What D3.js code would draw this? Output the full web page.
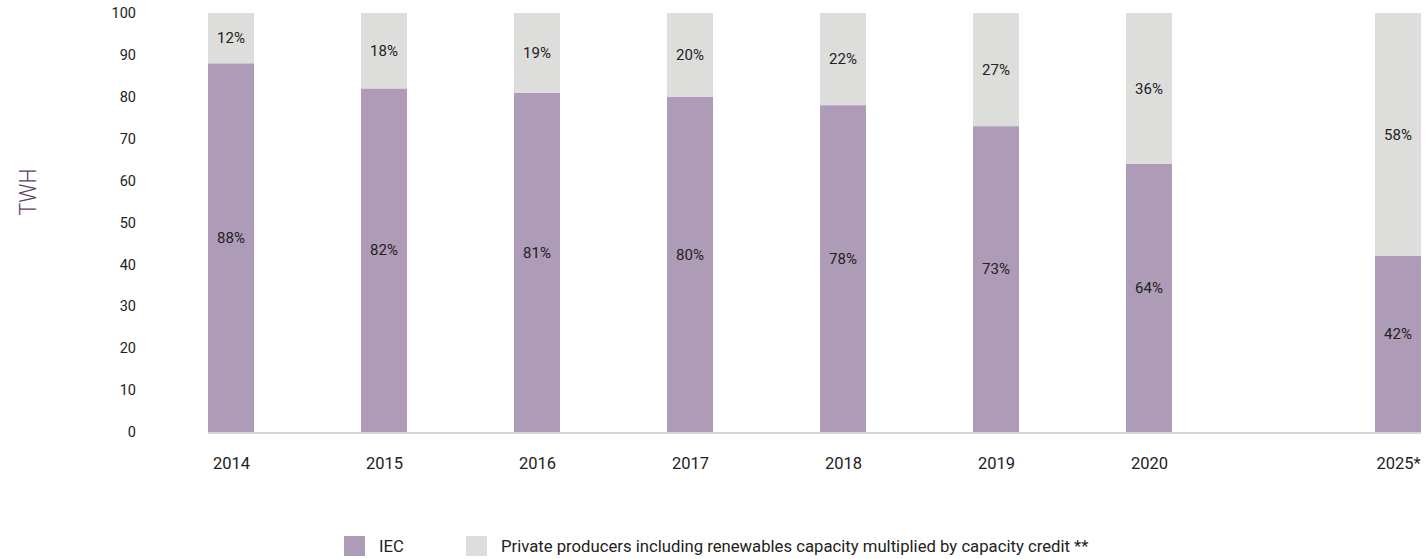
<!DOCTYPE html>
<html>
<head>
<meta charset="utf-8">
<script src="https://cdn.jsdelivr.net/npm/d3@7"></script>
<style>
  html, body { margin: 0; padding: 0; background: #fff; }
  svg { display: block; font-family: Roboto, "Noto Sans", sans-serif; }
</style>
</head>
<body>
<svg id="chart" width="1427" height="559"></svg>
<script>
// Electricity generation shares by producer (TWh, %)
const years = [2014, 2015, 2016, 2017, 2018, 2019, 2020, 2025];
const yearLabels = ["2014", "2015", "2016", "2017", "2018", "2019", "2020", "2025*"];
const iec = [88, 82, 81, 80, 78, 73, 64, 42];
const privateProducers = [12, 18, 19, 20, 22, 27, 36, 58];
const yTicks = [0, 10, 20, 30, 40, 50, 60, 70, 80, 90, 100];
const seriesNames = ["IEC", "Private producers including renewables capacity multiplied by capacity credit **"];
const seriesColors = ["#ae9bb7", "#dddddb"];

const svg = d3.select("#chart");

// Year axis: evenly spaced through 2020, with a shorter gap before the 2025 projection
const x = d3.scaleLinear().domain([2014, 2020, 2025]).range([231, 1149, 1398]);
const y = d3.scaleLinear().domain([0, 100]).range([432, 13]);
const barW = 46;

const rows = years.map((yr, i) => ({ year: yr, label: yearLabels[i], iec: iec[i], priv: privateProducers[i] }));
const stack = d3.stack().keys(["iec", "priv"])(rows);

// Stacked bars
svg.append("g").selectAll("g")
  .data(stack)
  .join("g")
  .attr("fill", (d, i) => seriesColors[i])
  .selectAll("rect")
  .data(d => d)
  .join("rect")
  .attr("x", d => x(d.data.year) - barW / 2)
  .attr("width", barW)
  .attr("y", d => y(d[1]))
  .attr("height", d => y(d[0]) - y(d[1]));

// Baseline
svg.append("line")
  .attr("x1", x(2014) - barW / 2).attr("x2", x(2025) + barW / 2)
  .attr("y1", y(0) + 1).attr("y2", y(0) + 1)
  .attr("stroke", "#d6d6d6").attr("stroke-width", 2);

// Percentage labels inside segments
const labelG = svg.append("g")
  .attr("font-size", 15).attr("fill", "#222").attr("text-anchor", "middle");
stack.forEach((layer, li) => {
  labelG.selectAll(null)
    .data(layer)
    .join("text")
    .attr("x", d => x(d.data.year))
    .attr("y", d => (y(d[0]) + y(d[1])) / 2 - (li === 0 ? 10 : 0))
    .attr("dy", "0.35em")
    .text(d => (d[1] - d[0]) + "%");
});

// Y axis tick labels
const yAxis = d3.axisLeft(y).tickValues(yTicks).tickSize(0).tickPadding(0);
const yg = svg.append("g").attr("transform", "translate(136,0)").call(yAxis);
yg.select(".domain").remove();
yg.selectAll("text").attr("font-size", 14.5).attr("fill", "#222").attr("font-family", "Roboto, sans-serif");

// X axis tick labels
const xAxis = d3.axisBottom(x).tickValues(years).tickFormat((d, i) => yearLabels[i]).tickSize(0).tickPadding(0);
const xg = svg.append("g").attr("transform", "translate(0,457)").call(xAxis);
xg.select(".domain").remove();
xg.selectAll("text").attr("font-size", 16.5).attr("fill", "#222").attr("font-family", "Roboto, sans-serif");

// Y axis title
svg.append("text")
  .attr("transform", "translate(28,192) rotate(-90)")
  .attr("text-anchor", "middle").attr("dy", "0.35em")
  .attr("font-size", 24).attr("font-weight", 300)
  .attr("fill", "#5c4068")
  .attr("textLength", 47).attr("lengthAdjust", "spacingAndGlyphs")
  .text("TWH");

// Legend
const legendX = [344, 466];
const legend = svg.append("g").selectAll("g")
  .data(seriesNames)
  .join("g")
  .attr("transform", (d, i) => `translate(${legendX[i]},536)`);
legend.append("rect").attr("width", 21).attr("height", 20).attr("fill", (d, i) => seriesColors[i]);
legend.append("text")
  .attr("x", 35).attr("y", 10).attr("dy", "0.35em")
  .attr("font-size", 16.7).attr("fill", "#222")
  .text(d => d);
</script>
</body>
</html>
